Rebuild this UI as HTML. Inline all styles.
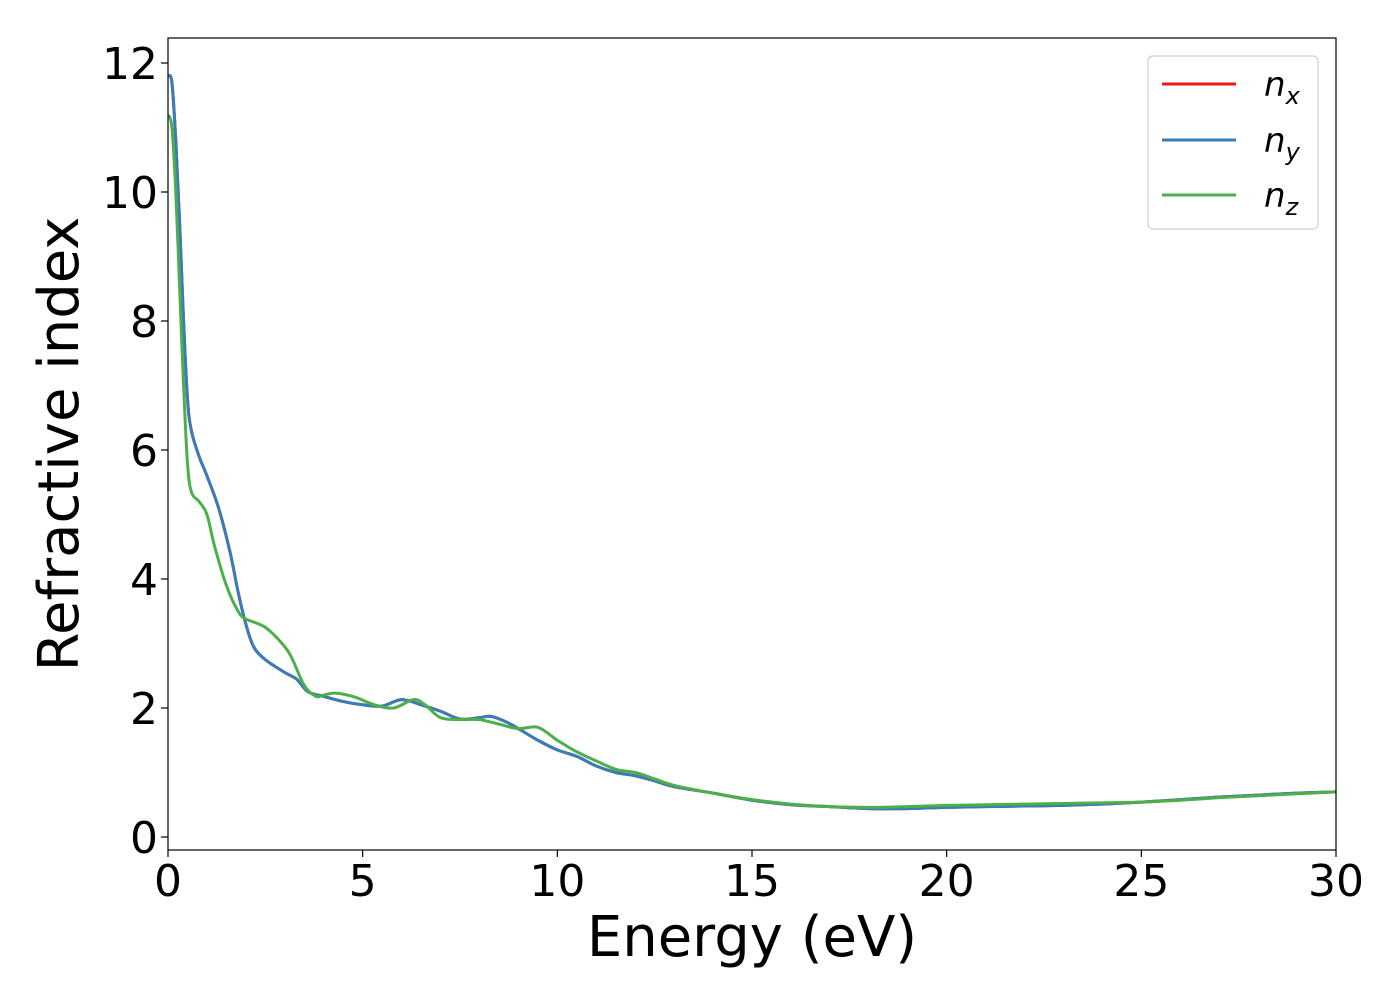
<!DOCTYPE html>
<html><head><meta charset="utf-8"><style>
body{margin:0;background:#fff;}
svg text{font-family:"DejaVu Sans","Liberation Sans",sans-serif;fill:#000;}
</style></head><body>
<svg id="chart" width="1400" height="1000" xmlns="http://www.w3.org/2000/svg">
<rect width="1400" height="1000" fill="#fff"/>
<g id="plot"></g>
</svg>
<script>
const xTicks=[0,5,10,15,20,25,30];
const yTicks=[0,2,4,6,8,10,12];
const energyB=[0,0.1,0.2,0.3,0.4,0.5,0.6,0.8,1,1.3,1.6,1.8,2,2.2,2.5,3,3.3,3.6,4,4.5,5,5.5,6,6.5,7,7.5,8,8.3,8.7,9,9.5,10,10.5,11,11.5,12,12.5,13,14,15,16,17,18,19,20,21,22,23,24,25,26,27,28,29,30];
const nxy=[11.8,11.7,10.8,9.5,8,6.8,6.3,5.9,5.6,5.1,4.4,3.8,3.3,2.95,2.75,2.55,2.45,2.25,2.18,2.1,2.05,2.03,2.13,2.05,1.95,1.83,1.85,1.87,1.78,1.68,1.5,1.35,1.25,1.1,1.0,0.95,0.87,0.78,0.68,0.57,0.5,0.47,0.44,0.44,0.46,0.47,0.48,0.49,0.51,0.54,0.58,0.62,0.65,0.68,0.7];
const energyG=[0,0.1,0.2,0.3,0.4,0.5,0.6,0.8,1,1.2,1.5,1.8,2,2.5,3,3.2,3.5,3.8,4,4.3,4.8,5.3,5.8,6.3,6.6,7,7.5,8,8.5,9,9.5,10,10.5,11,11.5,12,12.5,13,14,15,16,17,18,19,20,21,22,23,24,25,26,27,28,29,30];
const nz=[11.2,11.0,10.0,8.5,7,5.8,5.35,5.2,5.0,4.5,3.9,3.5,3.38,3.25,2.95,2.75,2.35,2.18,2.2,2.23,2.17,2.05,2.0,2.13,2.05,1.85,1.82,1.82,1.75,1.68,1.7,1.5,1.32,1.18,1.05,1.0,0.9,0.8,0.68,0.58,0.51,0.47,0.46,0.47,0.49,0.5,0.51,0.52,0.53,0.54,0.57,0.61,0.64,0.67,0.7];

const L=168,R=1336,T=38,B=850;
const X=v=>L+(v-0)/30*(R-L);
const Y=v=>837-v*64.5;
const ns="http://www.w3.org/2000/svg";
const g=document.getElementById('plot');
function mk(t,a){const e=document.createElementNS(ns,t);for(const k in a)e.setAttribute(k,a[k]);g.appendChild(e);return e;}
function path(xs,ys){
  const p=xs.map((x,i)=>[X(x),Y(ys[i])]);
  let d='M'+p[0][0]+','+p[0][1];
  for(let i=0;i<p.length-1;i++){
    const p0=p[i-1]||p[i],p1=p[i],p2=p[i+1],p3=p[i+2]||p2;
    const c1=[p1[0]+(p2[0]-p0[0])/6,p1[1]+(p2[1]-p0[1])/6];
    const c2=[p2[0]-(p3[0]-p1[0])/6,p2[1]-(p3[1]-p1[1])/6];
    d+=`C${c1[0]},${c1[1]} ${c2[0]},${c2[1]} ${p2[0]},${p2[1]}`;
  }
  return d;
}
let e;
e=mk('defs',{});e.innerHTML=`<clipPath id="cp"><rect x="${L}" y="${T}" width="${R-L}" height="${B-T}"/></clipPath>`;
e=mk('path',{d:path(energyB,nxy),fill:'none',stroke:'#e41a1c','stroke-width':3,'clip-path':'url(#cp)'});


e=mk('path',{d:path(energyB,nxy),fill:'none',stroke:'#377eb8','stroke-width':3,'clip-path':'url(#cp)'});


e=mk('path',{d:path(energyG,nz),fill:'none',stroke:'#4daf4a','stroke-width':3,'clip-path':'url(#cp)'});


e=mk('rect',{x:L,y:T,width:R-L,height:B-T,fill:'none',stroke:'#000','stroke-width':1.2});


xTicks.forEach(v=>{
  mk('line',{x1:X(v),x2:X(v),y1:B,y2:B+7,stroke:'#000','stroke-width':1.2});
  e=mk('text',{x:X(v),y:B+46,'font-size':44,'text-anchor':'middle'});e.textContent=v;
  
  
});
yTicks.forEach(v=>{
  mk('line',{x1:L-7,x2:L,y1:Y(v),y2:Y(v),stroke:'#000','stroke-width':1.2});
  e=mk('text',{x:L-10,y:Y(v)+16,'font-size':44,'text-anchor':'end'});e.textContent=v;
  
  
});
e=mk('text',{x:752,y:956,'font-size':56,'text-anchor':'middle'});e.textContent='Energy (eV)';


e=mk('text',{x:78,y:444,'font-size':56,'text-anchor':'middle',transform:'rotate(-90 78 444)'});e.textContent='Refractive index';


e=mk('rect',{x:1148,y:56,width:170,height:173,rx:5,fill:'#fff',stroke:'#d0d0d0','stroke-width':1.2});


[['#e41a1c','x',84],['#377eb8','y',140],['#4daf4a','z',195]].forEach(([c,s,y])=>{
  mk('line',{x1:1162,x2:1236,y1:y,y2:y,stroke:c,'stroke-width':3});
  e=mk('text',{x:1264,y:y+12,'font-size':34,'font-style':'italic'});
  e.innerHTML=`n<tspan font-size="24" dy="8">${s}</tspan>`;
  
  
});
</script>
</body></html>
